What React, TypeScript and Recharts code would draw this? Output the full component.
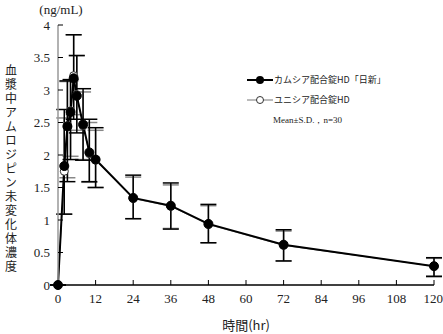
import React from 'react';
import {
  LineChart,
  Line,
  XAxis,
  YAxis,
  ErrorBar,
} from 'recharts';

// sampling times (hr)
const times = [0, 2, 3, 4, 5, 6, 8, 10, 12, 24, 36, 48, 72, 120];

// カムシア配合錠HD「日新」 mean and [lower, upper] SD
const nisshinMean = [0, 1.83, 2.44, 2.66, 3.18, 2.91, 2.47, 2.04, 1.93, 1.34, 1.22, 0.94, 0.62, 0.29];
const nisshinLow = [0, 0.74, 0.85, 0.73, 0.63, 0.57, 0.55, 0.45, 0.43, 0.32, 0.36, 0.29, 0.25, 0.16];
const nisshinHigh = [0, 0.87, 0.7, 0.5, 0.67, 0.62, 0.55, 0.51, 0.49, 0.35, 0.35, 0.3, 0.23, 0.13];

// ユニシア配合錠HD mean and [lower, upper] SD
const unisiaMean = [0, 1.75, 2.45, 2.68, 3.22, 2.93, 2.45, 2.02, 1.92, 1.33, 1.21, 0.93, 0.61, 0.29];
const unisiaLow = [0, 0.66, 0.8, 0.7, 0.6, 0.55, 0.52, 0.44, 0.42, 0.31, 0.34, 0.28, 0.24, 0.15];
const unisiaHigh = [0, 0.82, 0.68, 0.46, 0.63, 0.6, 0.52, 0.48, 0.46, 0.33, 0.33, 0.29, 0.22, 0.12];

const xTicks = [0, 12, 24, 36, 48, 60, 72, 84, 96, 108, 120];
const yTicks = [0, 0.5, 1, 1.5, 2, 2.5, 3, 3.5, 4];

const yTitle = '血漿中アムロジピン未変化体濃度';
const nisshinName = 'カムシア配合錠HD「日新」';
const unisiaName = 'ユニシア配合錠HD';
const note = 'Mean±S.D.，n=30';

const data = times.map((t, i) => ({
  t,
  nisshin: nisshinMean[i],
  nisshinErr: [nisshinLow[i], nisshinHigh[i]],
  unisia: unisiaMean[i],
  unisiaErr: [unisiaLow[i], unisiaHigh[i]],
}));

const serif = '"Liberation Serif", "DejaVu Serif", serif';
const cjk = '"Noto Sans CJK JP", sans-serif';
const textColor = '#222';

// legend drawn on top of the chart, the way the original puts it inside the plot
const LegendBox = () => (
  <div
    style={{
      position: 'absolute',
      left: 247,
      top: 70,
      fontSize: 9,
      color: textColor,
      lineHeight: '20px',
      whiteSpace: 'nowrap',
    }}
  >
    <div style={{ display: 'flex', alignItems: 'center', fontFamily: cjk }}>
      <svg width={27} height={10}>
        <line x1={0} y1={5} x2={26} y2={5} stroke="#000" strokeWidth={2} />
        <circle cx={13} cy={5} r={4} fill="#000" />
      </svg>
      <span>{nisshinName}</span>
    </div>
    <div style={{ display: 'flex', alignItems: 'center', fontFamily: cjk }}>
      <svg width={27} height={10}>
        <line x1={0} y1={5} x2={26} y2={5} stroke="#777" strokeWidth={1} />
        <circle cx={13} cy={5} r={3.5} fill="#fff" stroke="#333" />
      </svg>
      <span>{unisiaName}</span>
    </div>
    <div style={{ paddingLeft: 26, fontFamily: serif }}>{note}</div>
  </div>
);

// vertical (tategaki) axis title
const YTitle = () => (
  <text
    x={11}
    y={64}
    fontSize={12}
    fontFamily={cjk}
    fill={textColor}
    style={{ writingMode: 'vertical-rl', letterSpacing: 2 }}
  >
    {yTitle}
  </text>
);

export default function App() {
  return (
    <div style={{ position: 'absolute', left: 0, top: 0, width: 443, height: 334, background: '#fff' }}>
      <LineChart
        width={443}
        height={334}
        data={data}
        margin={{ top: 25, right: 9, left: 0, bottom: 0 }}
      >
        <XAxis
          dataKey="t"
          type="number"
          domain={[0, 120]}
          ticks={xTicks}
          height={49}
          tickSize={-5}
          tickMargin={14}
          axisLine={{ stroke: '#000', strokeWidth: 1.5 }}
          tickLine={{ stroke: '#000' }}
          tick={{ fill: textColor, fontSize: 13, fontFamily: serif }}
          label={{
            value: '時間(hr)',
            position: 'insideBottom',
            offset: 4,
            fill: textColor,
            fontSize: 13,
            fontFamily: cjk,
          }}
        />
        <YAxis
          type="number"
          domain={[0, 4]}
          ticks={yTicks}
          width={58}
          tickSize={-5}
          tickMargin={13}
          axisLine={{ stroke: '#999', strokeWidth: 1.5 }}
          tickLine={{ stroke: '#000' }}
          tick={{ fill: textColor, fontSize: 13, fontFamily: serif }}
          label={{ content: () => <YTitle /> }}
        />
        <text x={61} y={14} textAnchor="middle" fontSize={13} fontFamily={serif} fill={textColor}>
          (ng/mL)
        </text>
        <Line
          dataKey="unisia"
          name={unisiaName}
          stroke="#777"
          strokeWidth={1}
          dot={{ r: 4, fill: '#fff', stroke: '#333', strokeWidth: 1 }}
          isAnimationActive={false}
        >
          <ErrorBar dataKey="unisiaErr" width={8} stroke="#888" strokeWidth={1.5} />
        </Line>
        <Line
          dataKey="nisshin"
          name={nisshinName}
          stroke="#000"
          strokeWidth={2}
          dot={{ r: 4.5, fill: '#000', stroke: '#000', strokeWidth: 1 }}
          isAnimationActive={false}
        >
          <ErrorBar dataKey="nisshinErr" width={8} stroke="#000" strokeWidth={1.5} />
        </Line>
      </LineChart>
      <LegendBox />
    </div>
  );
}
